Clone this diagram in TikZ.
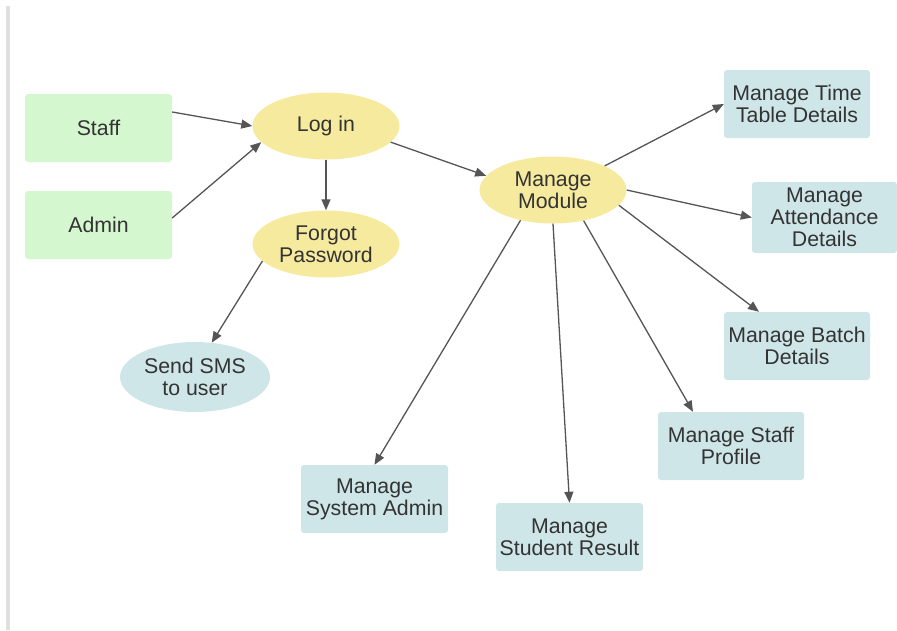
\documentclass[tikz,border=0pt]{standalone}
\usepackage{fontspec}
\setmainfont{Liberation Sans}
\usetikzlibrary{shapes.geometric,arrows.meta}
\definecolor{greenfill}{HTML}{D4F7CF}
\definecolor{yellowfill}{HTML}{F6EA9F}
\definecolor{bluefill}{HTML}{CFE6E8}
\definecolor{txt}{HTML}{333333}
\definecolor{arr}{HTML}{555555}
\definecolor{border}{HTML}{E0E0E0}
\tikzset{
  x=1pt, y=-1pt,
  every node/.style={font=\fontsize{21.3}{22}\selectfont, text=txt, align=center, inner sep=0pt},
  actor/.style={rectangle, rounded corners=3pt, fill=greenfill, minimum width=147pt, minimum height=68pt},
  usecase/.style={ellipse, fill=yellowfill, minimum width=147pt, minimum height=67pt},
  smsnode/.style={ellipse, fill=bluefill, minimum width=150pt, minimum height=70pt},
  taskbox/.style={rectangle, rounded corners=3pt, fill=bluefill, minimum width=146pt, minimum height=68pt},
  conn/.style={draw=arr, line width=1.3pt, -{Triangle[length=11pt,width=9pt]}}
}
\begin{document}
\begin{tikzpicture}
\useasboundingbox (0,0) rectangle (897,630);
\fill[border] (6,6) rectangle (9.5,630);

\node[actor] (staff) at (98.5,128) {Staff};
\node[actor] (admin) at (98.5,225) {Admin};
\node[usecase] (login) at (326,126) {Log in};
\node[usecase] (forgot) at (326,244) {Forgot\\Password};
\node[smsnode] (sms) at (195,377) {Send SMS\\to user};
\node[usecase] (module) at (553,190) {Manage\\Module};
\node[taskbox] (timetable) at (797,104) {Manage Time\\Table Details};
\node[taskbox, minimum width=145pt, minimum height=71pt] (attendance) at (824.5,217.5) {Manage\\Attendance\\Details};
\node[taskbox] (batch) at (797,346) {Manage Batch\\Details};
\node[taskbox] (staffprofile) at (731,446) {Manage Staff\\Profile};
\node[taskbox, minimum width=147pt] (sysadmin) at (374.5,499) {Manage\\System Admin};
\node[taskbox, minimum width=147pt] (result) at (569.5,537) {Manage\\Student Result};

\draw[conn] ([yshift=16pt]staff.east) -- (login.west);
\draw[conn] ([yshift=7pt]admin.east) -- (login.194);
\draw[conn] (login.south) -- (forgot.north);
\draw[conn] (login.-14) -- (module.168);
\draw[conn] (forgot.195) -- (sms.64);
\draw[conn] (module.25) -- (timetable.west);
\draw[conn] (module.east) -- (attendance.west);
\draw[conn] (module.-13) -- ([xshift=-38pt]batch.north);
\draw[conn] (module.-45) -- ([xshift=-38pt]staffprofile.north);
\draw[conn] (module.south) -- (result.north);
\draw[conn] (module.-137) -- (sysadmin.north);
\end{tikzpicture}
\end{document}
